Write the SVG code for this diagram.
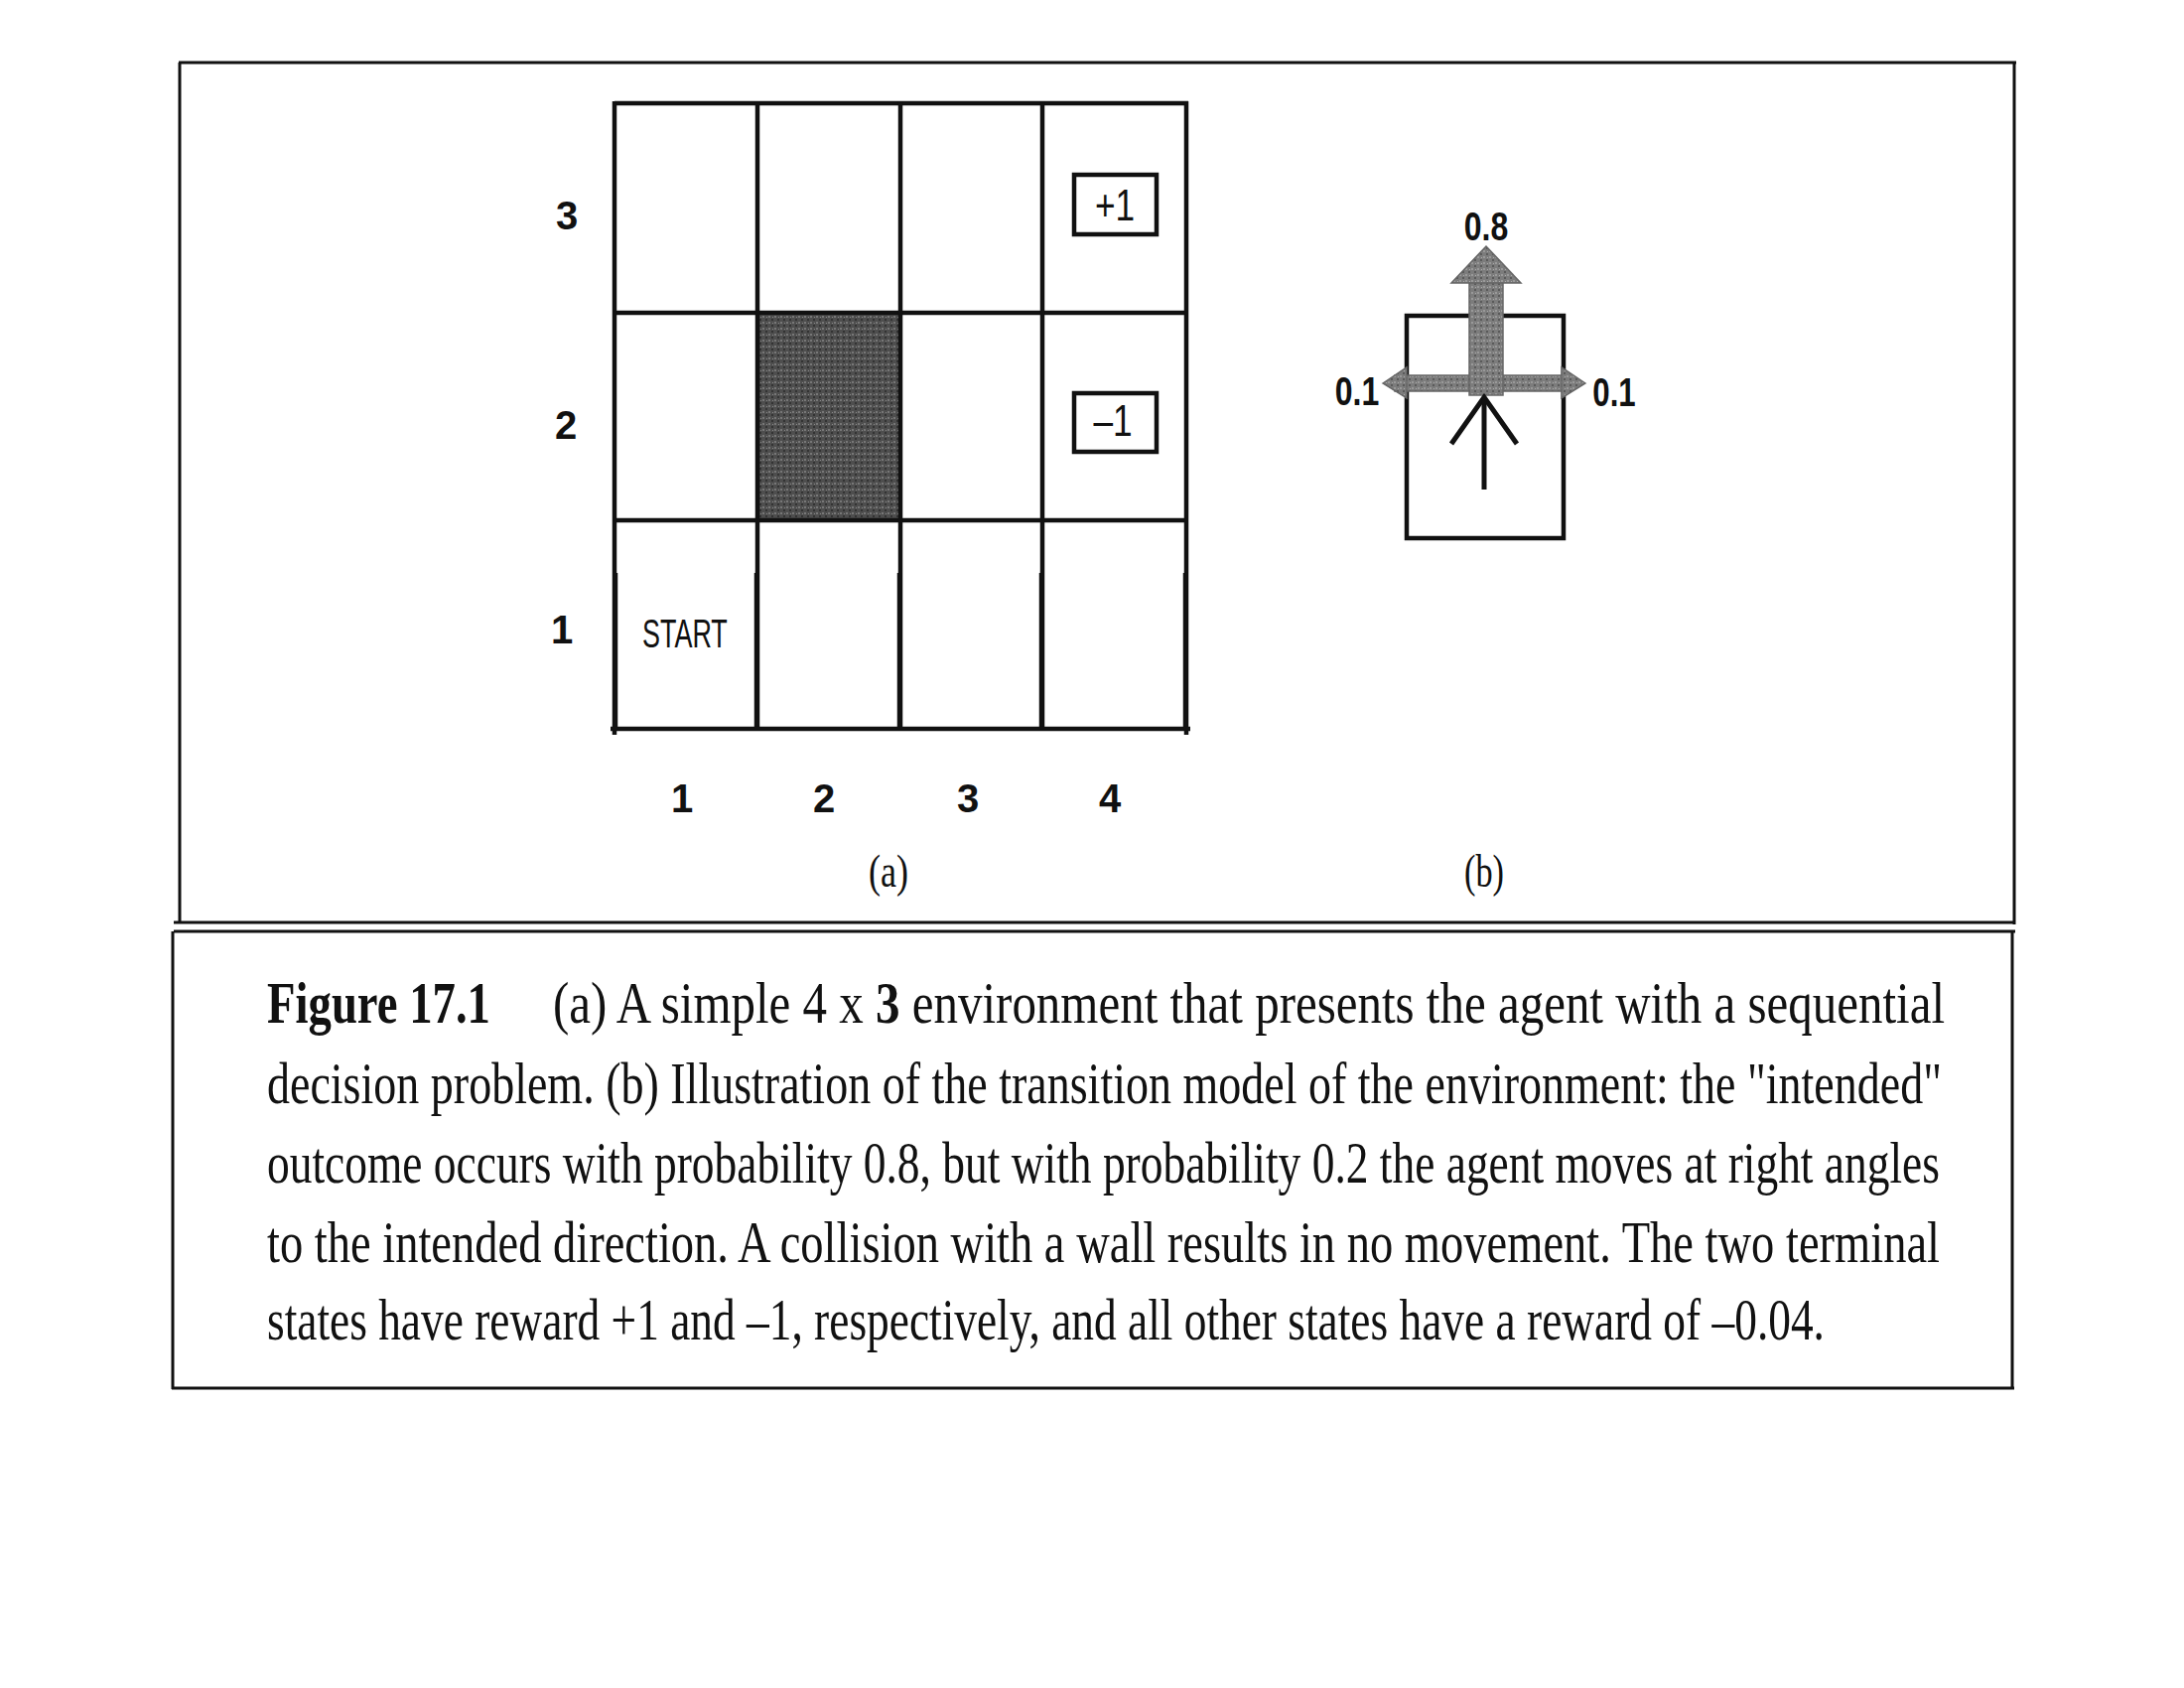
<svg xmlns="http://www.w3.org/2000/svg" width="2200" height="1700" viewBox="0 0 2200 1700">
<style>
.frame{fill:none;stroke:#111;stroke-width:3}
.grid{stroke:#111;stroke-width:4.5;fill:none}
.lbl{font-family:"Liberation Sans",Arial,sans-serif;font-weight:bold;font-size:40px;fill:#111;text-anchor:middle}
.rw{font-family:"Liberation Sans",Arial,sans-serif;font-size:44px;fill:#111;text-anchor:middle}
.sub{font-family:"Liberation Serif","Times New Roman",serif;font-size:46px;fill:#111}
.cap{font-family:"Liberation Serif","Times New Roman",serif;font-size:60px;fill:#111}
.grey{fill:url(#greytex);stroke:#666;stroke-width:1.5}
</style>
<defs>
<pattern id="noise" width="6" height="6" patternUnits="userSpaceOnUse">
<rect width="6" height="6" fill="#4e4e4e"/>
<rect x="0" y="0" width="2" height="2" fill="#777"/>
<rect x="3" y="3" width="2" height="2" fill="#333"/>
<rect x="4" y="1" width="1" height="1" fill="#888"/>
</pattern>
<pattern id="greytex" width="6" height="6" patternUnits="userSpaceOnUse">
<rect width="6" height="6" fill="#7c7c7c"/>
<rect x="0" y="0" width="2" height="2" fill="#999"/>
<rect x="3" y="3" width="2" height="2" fill="#5a5a5a"/>
<rect x="4" y="1" width="1" height="1" fill="#aaa"/>
</pattern>
</defs>
<rect width="2200" height="1700" fill="#fff"/>

<g id="frame">
<line class="frame" x1="180" y1="63" x2="2031" y2="63"/>
<line class="frame" x1="181" y1="63" x2="181" y2="929"/>
<line class="frame" x1="2029" y1="63" x2="2029" y2="931"/>
<line class="frame" x1="175" y1="929" x2="2030" y2="929"/>
<line class="frame" x1="175" y1="938" x2="2030" y2="938" stroke-width="2"/>
<line class="frame" x1="174" y1="938" x2="174" y2="1399"/>
<line class="frame" x1="2027" y1="938" x2="2027" y2="1399"/>
<line class="frame" x1="173" y1="1398" x2="2029" y2="1398"/>
</g>

<g id="grid-world">
<rect id="obstacle" x="763" y="315" width="145" height="209" fill="url(#noise)"/>
<line class="grid" x1="619" y1="104" x2="1197" y2="104" stroke-width="5.5"/>
<line class="grid" x1="619" y1="315" x2="1197" y2="315"/>
<line class="grid" x1="619" y1="524" x2="1197" y2="524"/>
<line class="grid" x1="619" y1="102" x2="619" y2="740"/>
<line class="grid" x1="763" y1="102" x2="763" y2="734"/>
<line class="grid" x1="907" y1="102" x2="907" y2="734"/>
<line class="grid" x1="1050" y1="102" x2="1050" y2="734"/>
<line class="grid" x1="1195" y1="102" x2="1195" y2="740"/>
<line class="grid" x1="620" y1="577" x2="620" y2="734" stroke-width="6"/>
<line class="grid" x1="762" y1="577" x2="762" y2="734" stroke-width="6"/>
<line class="grid" x1="906" y1="577" x2="906" y2="734" stroke-width="6"/>
<line class="grid" x1="1049" y1="577" x2="1049" y2="734" stroke-width="6"/>
<line class="grid" x1="1194" y1="577" x2="1194" y2="734" stroke-width="6"/>
<line class="grid" x1="615" y1="734" x2="1199" y2="734" stroke-width="11"/>
<g id="terminal-plus">
<rect x="1082" y="176" width="83" height="60" fill="none" stroke="#111" stroke-width="4.5"/>
<text class="rw" transform="translate(1123,222) scale(0.8,1)" x="0" y="0">+1</text>
</g>
<g id="terminal-minus">
<rect x="1082" y="396" width="83" height="59" fill="none" stroke="#111" stroke-width="4.5"/>
<text class="rw" transform="translate(1121,439) scale(0.8,1)" x="0" y="0">–1</text>
</g>
<text id="start" transform="translate(647,652) scale(0.66,1)" x="0" y="0" font-family="Liberation Sans, Arial, sans-serif" font-size="40" fill="#111" textLength="130" lengthAdjust="spacingAndGlyphs">START</text>
<text class="lbl" x="571" y="231">3</text>
<text class="lbl" x="570" y="442">2</text>
<text class="lbl" x="566" y="648">1</text>
<text class="lbl" x="687" y="818">1</text>
<text class="lbl" x="830" y="818">2</text>
<text class="lbl" x="975" y="818">3</text>
<text class="lbl" x="1118" y="818">4</text>
<text class="sub" x="895" y="893" text-anchor="middle" textLength="40" lengthAdjust="spacingAndGlyphs">(a)</text>
</g>

<g id="transition-model">
<rect x="1417" y="318" width="158" height="224" fill="none" stroke="#111" stroke-width="4.5"/>
<rect class="grey" x="1405" y="378" width="170" height="16"/>
<polygon class="grey" points="1393,386 1417,370 1417,401"/>
<polygon class="grey" points="1597,386 1573,370 1573,401"/>
<rect class="grey" x="1480" y="283" width="34" height="115"/>
<polygon class="grey" points="1462,285 1497,248 1532,285"/>
<polyline points="1462,447 1495,400 1528,447" fill="none" stroke="#111" stroke-width="5"/>
<line x1="1495" y1="493" x2="1495" y2="402" stroke="#111" stroke-width="5"/>
<text class="lbl" transform="translate(1497,242) scale(0.8,1)" x="0" y="0" font-size="36">0.8</text>
<text class="lbl" transform="translate(1367,408) scale(0.8,1)" x="0" y="0">0.1</text>
<text class="lbl" transform="translate(1626,409) scale(0.78,1)" x="0" y="0">0.1</text>
<text class="sub" x="1495" y="893" text-anchor="middle" textLength="40" lengthAdjust="spacingAndGlyphs">(b)</text>
</g>

<g id="caption" transform="scale(0.7,1)">
<text class="cap" x="384.3" y="1030" font-weight="bold" textLength="321.4" lengthAdjust="spacingAndGlyphs">Figure 17.1</text>
<text class="cap" x="795.7" y="1030" textLength="2002.9" lengthAdjust="spacingAndGlyphs">(a) A simple 4 x <tspan font-weight="bold">3</tspan> environment that presents the agent with a sequential</text>
<text class="cap" x="384.3" y="1111" textLength="2410" lengthAdjust="spacingAndGlyphs">decision problem. (b) Illustration of the transition model of the environment: the "intended"</text>
<text class="cap" x="384.3" y="1191" textLength="2407.1" lengthAdjust="spacingAndGlyphs">outcome occurs with probability 0.8, but with probability 0.2 the agent moves at right angles</text>
<text class="cap" x="384.3" y="1271" textLength="2407.1" lengthAdjust="spacingAndGlyphs">to the intended direction. A collision with a wall results in no movement. The two terminal</text>
<text class="cap" x="384.3" y="1349" textLength="2241.4" lengthAdjust="spacingAndGlyphs">states have reward +1 and –1, respectively, and all other states have a reward of –0.04.</text>
</g>
</svg>
